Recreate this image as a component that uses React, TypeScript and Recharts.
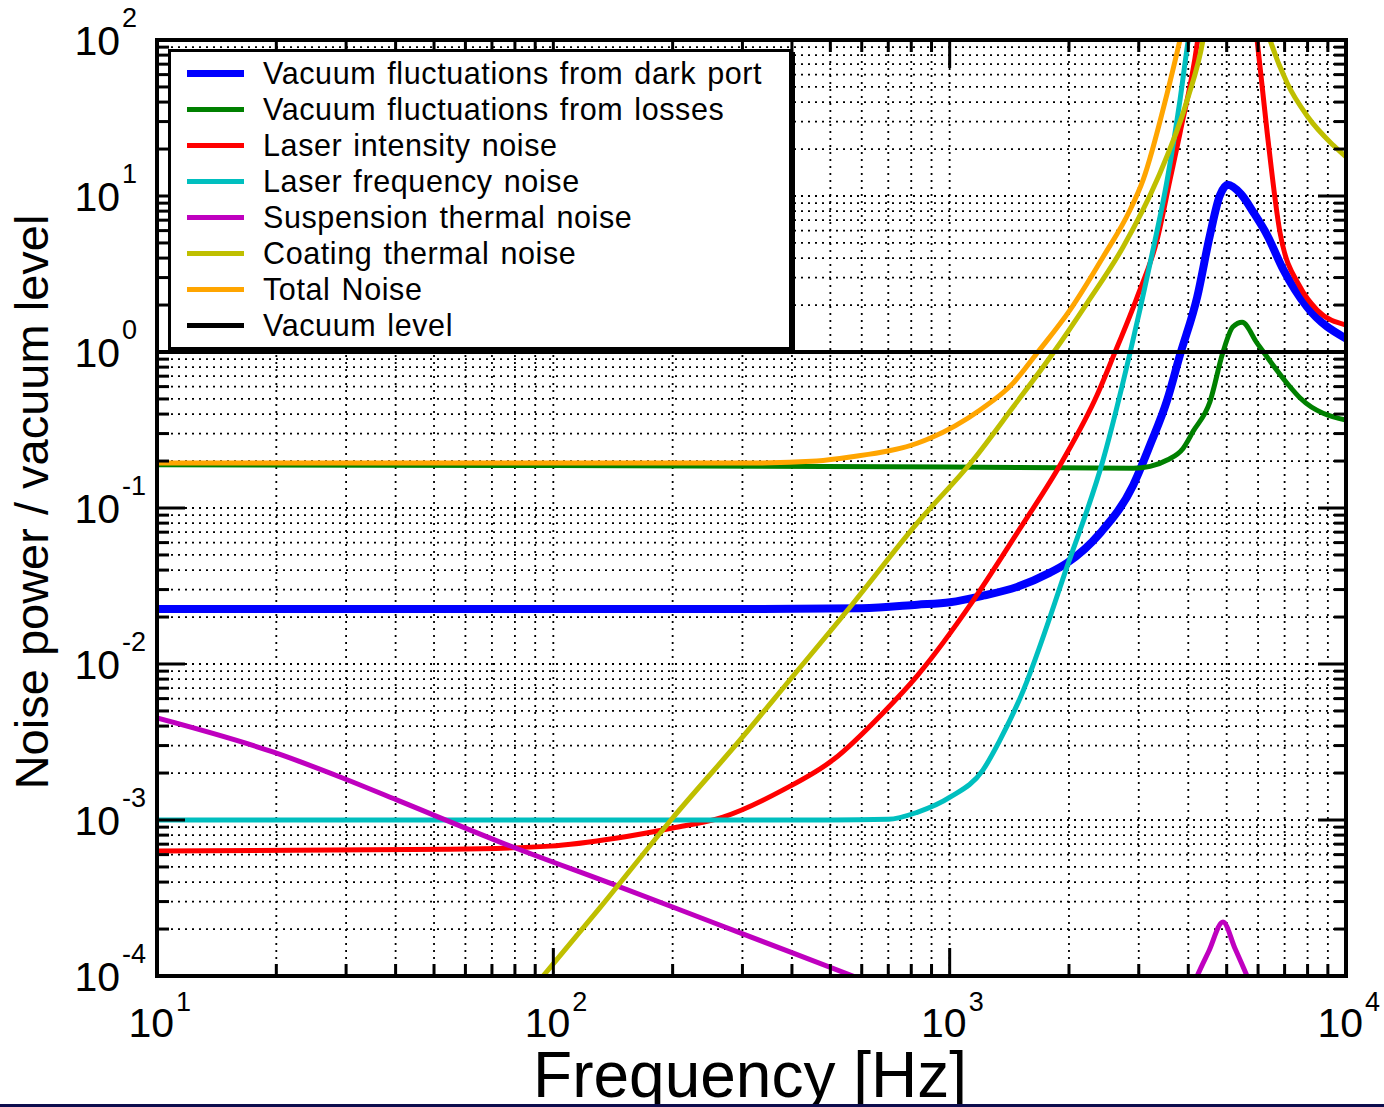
import { LineChart, Line, XAxis, YAxis, CartesianGrid } from "recharts";

// [frequency Hz, noise power / vacuum level]
const darkPort: [number, number][] = [
  [10, 0.0225], [300, 0.0225], [600, 0.0228], [828, 0.024], [1002, 0.0249],
  [1213, 0.0274], [1479, 0.0312], [1791, 0.0385], [1977, 0.0444], [2397, 0.069],
  [2904, 0.14], [3205, 0.254], [3539, 0.492], [3812, 0.957], [4212, 2.25],
  [4537, 5.62], [4808, 10.1], [5035, 11.8], [5430, 10.3], [5850, 7.8],
  [6328, 5.6], [6937, 3.4], [7980, 1.94], [10000, 1.22],
];
const losses: [number, number][] = [
  [10, 0.189], [100, 0.187], [1000, 0.183], [2904, 0.18], [3205, 0.185],
  [3539, 0.203], [3880, 0.241], [4115, 0.31], [4537, 0.48], [4894, 1.0],
  [5185, 1.45], [5470, 1.55], [5966, 1.14], [7103, 0.63], [7660, 0.507],
  [10000, 0.366],
];
const intensity: [number, number][] = [
  [10, 6.33e-4], [55, 6.5e-4], [98, 6.8e-4], [145, 7.67e-4], [200, 8.89e-4],
  [268, 1.045e-3], [380, 1.56e-3], [508, 2.43e-3], [679, 4.86e-3], [828, 8.4e-3],
  [1139, 0.0249], [1479, 0.069], [1932, 0.203], [2355, 0.53], [2584, 0.93],
  [2972, 2.25], [3336, 5.23], [3597, 12.7], [3812, 25.3], [4212, 95],
  [4500, 400], [5000, 2000], [5500, 500], [5966, 100], [6328, 25.3],
  [6818, 5.8], [7660, 2.61], [8453, 1.86], [10000, 1.49],
];
const frequency: [number, number][] = [
  [10, 1e-3], [500, 1e-3], [700, 1.01e-3], [828, 1.12e-3], [1002, 1.4e-3],
  [1213, 2.09e-3], [1340, 3.26e-3], [1506, 6.05e-3], [1977, 0.0419], [2438, 0.203],
  [2851, 0.985], [3205, 3.72], [3539, 12.7], [3812, 41.2], [3999, 100],
  [4300, 300],
];
const suspension: [number, number][] = [
  [10, 4.51e-3], [19.6, 2.73e-3], [29.4, 1.86e-3], [40.4, 1.34e-3], [73.4, 7.22e-4],
  [147, 3.73e-4], [200, 2.77e-4], [296, 1.89e-4], [403, 1.4e-4], [570, 1e-4],
  [1000, 5.8e-5], [2000, 3e-5], [3800, 5e-5], [4212, 1e-4], [4500, 1.43e-4],
  [4894, 2.22e-4], [5248, 1.5e-4], [5627, 1e-4], [6500, 4e-5], [10000, 2e-5],
];
const coating: [number, number][] = [
  [80, 6.1e-5], [94.2, 1e-4], [131, 2.73e-4], [200, 1.03e-3], [296, 3.26e-3],
  [395, 7.9e-3], [561, 0.0232], [828, 0.08], [1146, 0.203], [1446, 0.444],
  [1824, 0.985], [2222, 2.06], [2739, 4.71], [3336, 12.7], [3975, 41.2],
  [4357, 100], [4700, 400], [5000, 1500], [5600, 400], [6433, 100],
  [7103, 53], [7980, 32.6], [9276, 21.2], [10000, 17.8],
];
const total: [number, number][] = [
  [10, 0.194], [313, 0.194], [462, 0.2], [561, 0.212], [828, 0.26],
  [892, 0.28], [1193, 0.425], [1446, 0.632], [1662, 0.985], [2013, 1.86],
  [2438, 4.06], [2851, 8.13], [3077, 12.7], [3539, 45.7], [3812, 100],
  [4200, 300],
];
const vacuum: [number, number][] = [[10, 1], [10000, 1]];

const xDecades = [10, 100, 1000, 10000];
const yDecades = [1e-4, 1e-3, 1e-2, 1e-1, 1, 10, 100];
const minorSteps = [2, 3, 4, 5, 6, 7, 8, 9];

const buildTicks = (dec: number[]) =>
  dec.flatMap((d, i) => (i === dec.length - 1 ? [d] : [d, ...minorSteps.map((m) => d * m)]));
const xTicks = buildTicks(xDecades);
const yTicks = buildTicks(yDecades);

const series = [
  { name: "Vacuum fluctuations from dark port", data: darkPort, color: "#0000ff", width: 8, key: 7 },
  { name: "Vacuum fluctuations from losses", data: losses, color: "#008000", width: 5, key: 5 },
  { name: "Laser intensity noise", data: intensity, color: "#ff0000", width: 5, key: 5 },
  { name: "Laser frequency noise", data: frequency, color: "#00bfbf", width: 5, key: 5 },
  { name: "Suspension thermal noise", data: suspension, color: "#bf00bf", width: 5, key: 5 },
  { name: "Coating thermal noise", data: coating, color: "#bfbf00", width: 5, key: 5 },
  { name: "Total Noise", data: total, color: "#ffa500", width: 5, key: 5 },
  { name: "Vacuum level", data: vacuum, color: "#000000", width: 4, key: 5 },
];

const FONT = "'Liberation Sans', Arial, Helvetica, sans-serif";
const MAJOR = 28;
const MINOR = 12;

const isMajor = (v: number) => Math.abs(Math.log10(v) - Math.round(Math.log10(v))) < 1e-6;
const expOf = (v: number) => String(Math.round(Math.log10(v)));

const LeftTick = (props: any) => {
  const { x, y, payload } = props;
  const major = isMajor(payload.value);
  return (
    <g>
      <line x1={x} x2={x + (major ? MAJOR : MINOR)} y1={y} y2={y} stroke="#000" strokeWidth={3} />
      {major && (
        <g fontFamily={FONT} fill="#000">
          <text x={x - 37} y={y + 14.5} fontSize={41} textAnchor="end">10</text>
          <text x={x - 35} y={y - 13} fontSize={27} textAnchor="start">{expOf(payload.value)}</text>
        </g>
      )}
    </g>
  );
};

const RightTick = (props: any) => {
  const { x, y, payload } = props;
  const major = isMajor(payload.value);
  return <line x1={x} x2={x - (major ? MAJOR : MINOR)} y1={y} y2={y} stroke="#000" strokeWidth={3} />;
};

const BottomTick = (props: any) => {
  const { x, y, payload } = props;
  const major = isMajor(payload.value);
  return (
    <g>
      <line x1={x} x2={x} y1={y} y2={y - (major ? MAJOR : MINOR)} stroke="#000" strokeWidth={3} />
      {major && (
        <g fontFamily={FONT} fill="#000">
          <text x={x + 17} y={y + 61} fontSize={41} textAnchor="end">10</text>
          <text x={x + 19} y={y + 35} fontSize={27} textAnchor="start">{expOf(payload.value)}</text>
        </g>
      )}
    </g>
  );
};

const TopTick = (props: any) => {
  const { x, y, payload } = props;
  const major = isMajor(payload.value);
  return <line x1={x} x2={x} y1={y} y2={y + (major ? MAJOR : MINOR)} stroke="#000" strokeWidth={3} />;
};

const frame = { stroke: "#000", strokeWidth: 4, strokeLinecap: "square" as const };

export default function App() {
  return (
    <div style={{ position: "absolute", left: 0, top: 0, width: 1384, height: 1107, background: "#fff" }}>
      <LineChart width={1384} height={1107} margin={{ top: 30, right: 28, left: 57, bottom: 71 }}>
        <CartesianGrid stroke="#000" strokeWidth={1.8} strokeDasharray="2 5" />
        <XAxis
          dataKey="f" type="number" scale="log" domain={[10, 10000]} allowDataOverflow
          ticks={xTicks} interval={0} tick={<BottomTick />} tickLine={false}
          tickSize={0} tickMargin={0} height={60} axisLine={frame}
        />
        <XAxis
          xAxisId="top" orientation="top" dataKey="f" type="number" scale="log" domain={[10, 10000]}
          allowDataOverflow ticks={xTicks} interval={0} tick={<TopTick />} tickLine={false}
          tickSize={0} tickMargin={0} height={10} axisLine={frame}
        />
        <YAxis
          type="number" scale="log" domain={[1e-4, 100]} allowDataOverflow
          ticks={yTicks} interval={0} tick={<LeftTick />} tickLine={false}
          tickSize={0} tickMargin={0} width={100} axisLine={frame}
        />
        <YAxis
          yAxisId="right" orientation="right" type="number" scale="log" domain={[1e-4, 100]}
          allowDataOverflow ticks={yTicks} interval={0} tick={<RightTick />} tickLine={false}
          tickSize={0} tickMargin={0} width={10} axisLine={frame}
        />
        {series.map((s) => (
          <Line
            key={s.name}
            name={s.name}
            data={s.data.map(([f, v]) => ({ f, v }))}
            dataKey="v"
            type="monotone"
            stroke={s.color}
            strokeWidth={s.width}
            dot={false}
            activeDot={false}
            isAnimationActive={false}
          />
        ))}
      </LineChart>

      <svg
        width={1384}
        height={1107}
        style={{ position: "absolute", left: 0, top: 0, pointerEvents: "none" }}
      >
        <text
          x={48} y={502} transform="rotate(-90 48 502)" textAnchor="middle"
          fontFamily={FONT} fontSize={47} fill="#000"
        >
          Noise power / vacuum level
        </text>
        <text x={750} y={1097} textAnchor="middle" fontFamily={FONT} fontSize={64} fill="#000">
          Frequency [Hz]
        </text>
      </svg>

      <div
        style={{
          position: "absolute", left: 168, top: 49, width: 618, height: 292,
          background: "#fff", border: "3px solid #000", boxShadow: "3px 3px 0 #000",
          fontFamily: FONT, fontSize: 30.5, letterSpacing: 0.6, wordSpacing: 2,
          color: "#000", paddingTop: 3,
        }}
      >
        {series.map((s) => (
          <div key={s.name} style={{ display: "flex", alignItems: "center", height: 36 }}>
            <div style={{ marginLeft: 16, width: 57, height: s.key, background: s.color, flexShrink: 0 }} />
            <span style={{ marginLeft: 19, whiteSpace: "nowrap" }}>{s.name}</span>
          </div>
        ))}
      </div>

      <div style={{ position: "absolute", left: 0, top: 1104, width: 1384, height: 3, background: "#0d0d4d" }} />
    </div>
  );
}
